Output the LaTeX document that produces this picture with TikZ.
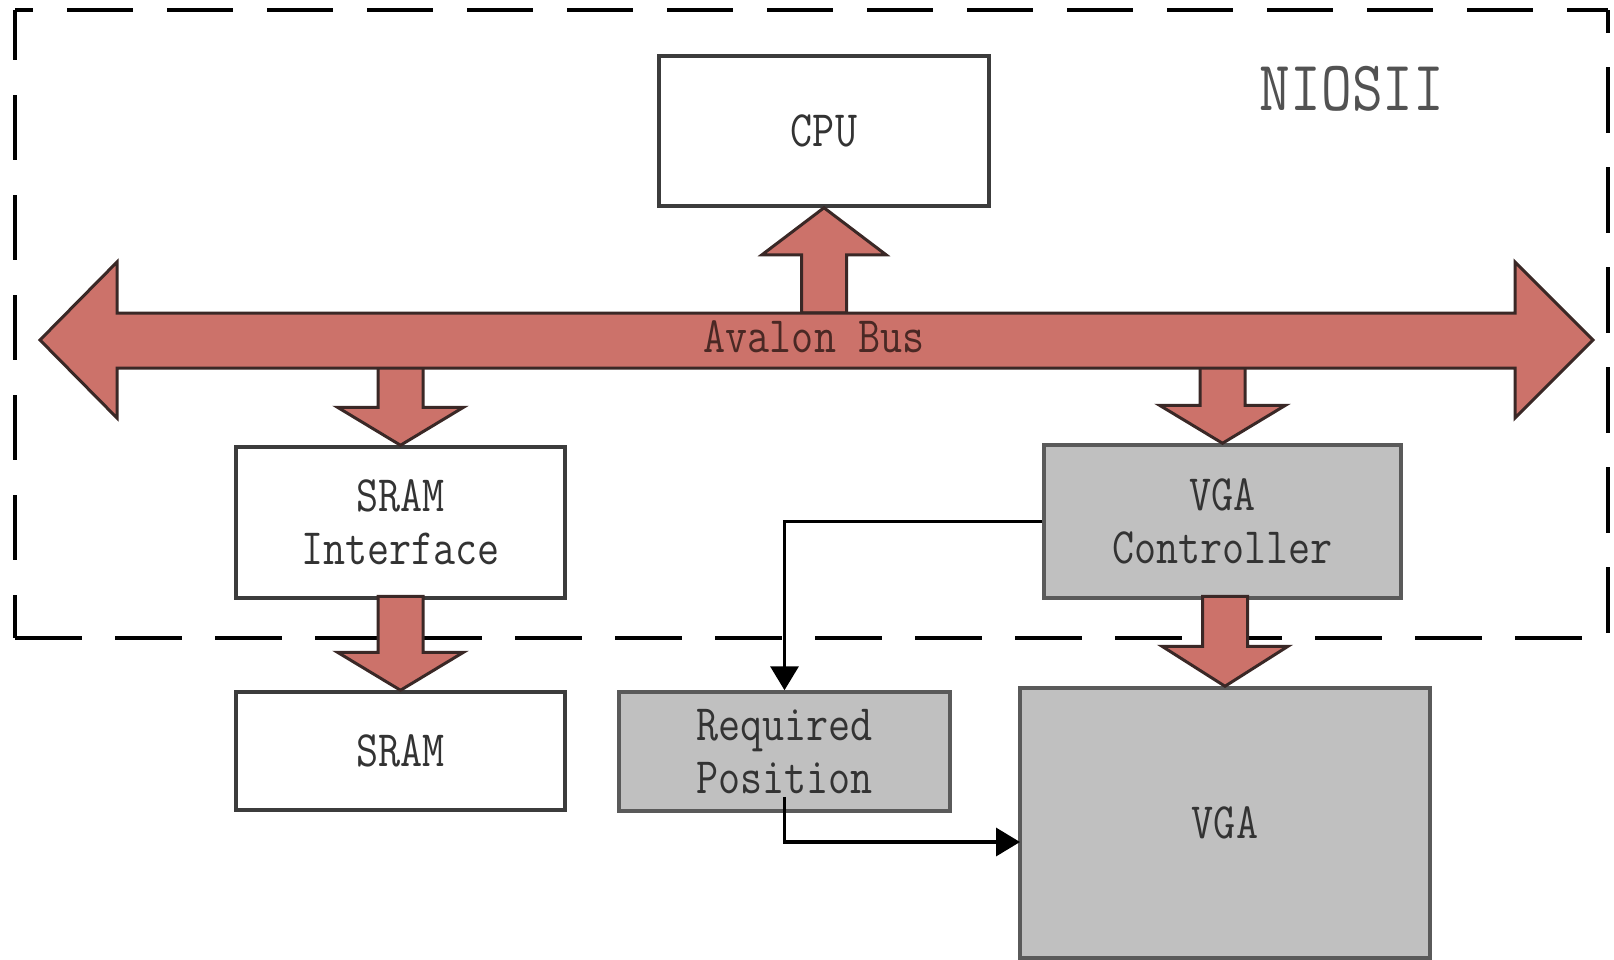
\documentclass[tikz,border=0pt]{standalone}
\usepackage{fontspec}
\newfontfamily\dgmono[FakeStretch=0.84]{Latin Modern Mono}
\newcommand\dgfont{\dgmono\fontsize{51}{53}\selectfont}
\newcommand\dgbig{\dgmono\fontsize{71}{74}\selectfont}
\usetikzlibrary{arrows.meta,calc}
\definecolor{busred}{HTML}{CC726A}
\definecolor{busline}{HTML}{3A2826}
\definecolor{gfill}{HTML}{C0C0C0}
\definecolor{boxline}{HTML}{3C3C3C}
\definecolor{gline}{HTML}{5A5A5A}
\definecolor{txt}{HTML}{333333}
\definecolor{bustxt}{HTML}{4A2824}
\tikzset{
  box/.style={draw=boxline, line width=3.5pt, fill=white, inner sep=0pt,
    align=center, font=\dgfont, text=txt},
  gbox/.style={box, draw=gline, fill=gfill},
  fat/.style={fill=busred, draw=busline, line width=3pt, line join=miter},
  conn/.style={line width=3.5pt, draw=black, -{Triangle[width=28pt,length=24pt]}},
  frame/.style={line width=3.5pt, draw=black},
}
% #1 tip anchor, #2 sign (1 = pointing down, -1 = pointing up), #3 head length, #4 head half width, #5 shaft length
\newcommand\fatv[5]{%
  \draw[fat] (#1) -- ++({#4},{-(#2)*(#3)}) -- ++({-(#4)+22.5},0) -- ++(0,{-(#2)*(#5)})
    -- ++(-45,0) -- ++(0,{(#2)*(#5)}) -- ++({-(#4)+22.5},0) -- cycle;}
\begin{document}
\begin{tikzpicture}[x=1pt,y=-1pt]
\useasboundingbox (0,0) rectangle (1614,959);

% dashed NIOSII frame
\draw[frame, dash pattern=on 66pt off 34pt, dash phase=48pt] (15,10) -- (1608,10);
\draw[frame, dash pattern=on 65pt off 35pt, dash phase=15pt] (15,10) -- (15,638);
\draw[frame, dash pattern=on 66pt off 34pt, dash phase=43pt] (1608,10) -- (1608,638);
\draw[frame, dash pattern=on 67pt off 33pt] (15,638) -- (1608,638);

% boxes
\node[box, minimum width=330pt, minimum height=150pt] (cpu) at (824,131) {CPU};
\node[box, minimum width=329pt, minimum height=151pt] (sri) at (400.5,522.5) {SRAM\\Interface};
\node[box, minimum width=329pt, minimum height=118pt] (sram) at (400.5,751) {SRAM};
\node[gbox, minimum width=357pt, minimum height=153pt] (vc) at (1222.5,521.5) {VGA\\Controller};
\node[gbox, minimum width=331pt, minimum height=119pt] (rp) at (784.5,751.5) {Required\\Position};
\node[gbox, minimum width=410pt, minimum height=270pt] (vga) at (1225,823) {VGA};

% fat arrows to/from the bus
\fatv{cpu.south}{-1}{47}{62}{58}
\fatv{sri.north}{1}{38}{63}{49}
\fatv{vc.north}{1}{38}{63}{47}
\fatv{sram.north}{1}{38}{63}{56}
\fatv{vga.north}{1}{40}{63}{50}

% Avalon bus
\draw[fat] (40,340) -- (117,262) -- (117,313) -- (1515,313) -- (1515,262) -- (1593,340)
  -- (1515,418) -- (1515,368) -- (117,368) -- (117,418) -- cycle;
\node[font=\dgfont, text=bustxt, inner sep=0pt] (bus) at (814,337) {Avalon Bus};

% NIOSII label
\node[font=\dgbig, text=txt!85, inner sep=0pt] (nios) at (1352,89) {NIOSII};

% signal connectors
\coordinate (vgain) at (1020,842);
\draw[conn] (vc.west) -| (rp.north);
\draw[conn] ([yshift=16pt]rp.south) |- (vgain);
\end{tikzpicture}
\end{document}
